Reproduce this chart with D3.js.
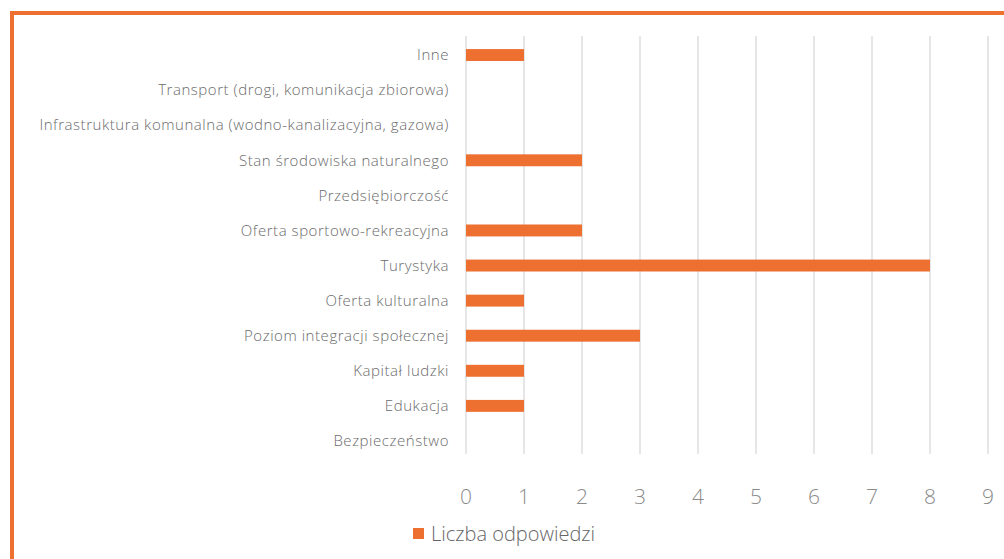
<!DOCTYPE html>
<html>
<head>
<meta charset="utf-8">
<script src="https://cdn.jsdelivr.net/npm/d3@7"></script>
<style>
  body { margin: 0; background: #fff; }
  svg text { font-family: "Open Sans", sans-serif; }
</style>
</head>
<body>
<div id="chart"></div>
<script>
var categories = [
  'Inne',
  'Transport (drogi, komunikacja zbiorowa)',
  'Infrastruktura komunalna (wodno-kanalizacyjna, gazowa)',
  'Stan środowiska naturalnego',
  'Przedsiębiorczość',
  'Oferta sportowo-rekreacyjna',
  'Turystyka',
  'Oferta kulturalna',
  'Poziom integracji społecznej',
  'Kapitał ludzki',
  'Edukacja',
  'Bezpieczeństwo'
];
var values = [1, 0, 0, 2, 0, 2, 8, 1, 3, 1, 1, 0];
var ticks = [0, 1, 2, 3, 4, 5, 6, 7, 8, 9];
var seriesName = 'Liczba odpowiedzi';

var W = 1004, H = 559;
var orange = '#ED7031';

var svg = d3.select('#chart').append('svg')
  .attr('width', W)
  .attr('height', H);

// frame
svg.append('rect')
  .attr('x', 12).attr('y', 13)
  .attr('width', W + 20).attr('height', H + 20)
  .attr('fill', 'none')
  .attr('stroke', orange)
  .attr('stroke-width', 4);

var x = d3.scaleLinear().domain([0, 9]).range([466, 988]);
var y = d3.scaleBand().domain(categories).range([37.5, 458.5]).paddingInner(0.66).paddingOuter(0.33);

// grid
svg.append('g').selectAll('line')
  .data(ticks)
  .enter()
  .append('line')
  .attr('x1', function (d) {return x(d);})
  .attr('x2', function (d) {return x(d);})
  .attr('y1', 36)
  .attr('y2', 454)
  .attr('stroke', '#d9d9d9')
  .attr('stroke-width', 1.3);

// bars
svg.append('g').selectAll('rect')
  .data(values)
  .enter()
  .append('rect')
  .attr('x', x(0))
  .attr('y', function (d, i) {return y(categories[i]);})
  .attr('width', function (d) {return x(d) - x(0);})
  .attr('height', y.bandwidth())
  .attr('fill', orange);

// category labels
svg.append('g').selectAll('text')
  .data(categories)
  .enter()
  .append('text')
  .attr('x', 449)
  .attr('y', function (d) {return y(d) + y.bandwidth() / 2;})
  .attr('dy', '0.35em')
  .attr('text-anchor', 'end')
  .attr('fill', '#6b6b6b')
  .style('font-size', '15px')
  .style('font-weight', 300)
  .style('letter-spacing', '0.55px')
  .text(function (d) {return d;});

// tick labels
svg.append('g').selectAll('text')
  .data(ticks)
  .enter()
  .append('text')
  .attr('x', function (d) {return x(d);})
  .attr('y', 497)
  .attr('dy', '0.35em')
  .attr('text-anchor', 'middle')
  .attr('fill', '#8a8a8a')
  .style('font-size', '21px')
  .style('font-weight', 300)
  .text(function (d) {return d;});

// legend
svg.append('rect')
  .attr('x', 413).attr('y', 528)
  .attr('width', 11).attr('height', 11)
  .attr('fill', orange);
svg.append('text')
  .attr('x', 431).attr('y', 534)
  .attr('dy', '0.35em')
  .attr('fill', '#666666')
  .style('font-size', '20px')
  .style('font-weight', 300)
  .text(seriesName);
</script>
</body>
</html>
